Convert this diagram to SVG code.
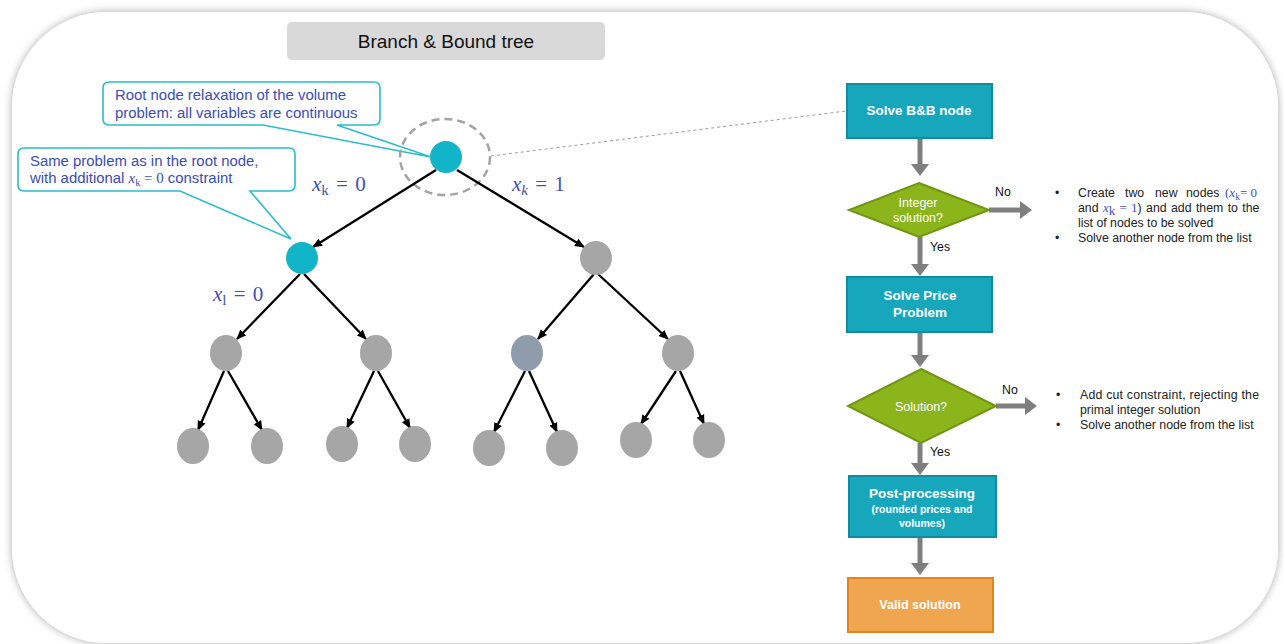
<svg xmlns="http://www.w3.org/2000/svg" width="1284" height="644" viewBox="0 0 1284 644">
<defs>
<filter id="sh" x="-5%" y="-5%" width="110%" height="110%">
<feGaussianBlur in="SourceAlpha" stdDeviation="4"/>
<feComponentTransfer><feFuncA type="linear" slope="0.35"/></feComponentTransfer>
<feMerge><feMergeNode/><feMergeNode in="SourceGraphic"/></feMerge>
</filter>
<filter id="soft" x="-20%" y="-20%" width="140%" height="140%"><feGaussianBlur stdDeviation="0.7"/></filter>
<marker id="ba" viewBox="0 0 10 10" refX="9" refY="5" markerWidth="10" markerHeight="10" markerUnits="userSpaceOnUse" orient="auto"><path d="M0,0.8 L10,5 L0,9.2 Z" fill="#000"/></marker>
<marker id="ga" viewBox="0 0 12 18" refX="0" refY="9" markerWidth="12" markerHeight="18" markerUnits="userSpaceOnUse" orient="auto"><path d="M0,0 L12,9 L0,18 Z" fill="#7f7f7f"/></marker>
</defs>
<style>
.sans{font-family:"Liberation Sans",Arial,sans-serif}
.math{font-family:"Liberation Serif","DejaVu Serif",serif;fill:#3f51b5}
.call{fill:#fff;stroke:#2bbccd;stroke-width:1.6}
.ctext{font-family:"Liberation Sans",Arial,sans-serif;font-size:14.9px;fill:#3b4db6}
.edge{stroke:#000;stroke-width:2.3;fill:none;marker-end:url(#ba)}
.gar{stroke:#7f7f7f;stroke-width:5;fill:none;marker-end:url(#ga)}
.gray{fill:#a6a6a6}
.teal{fill:#12b4c7}
.box{fill:#17a7bd;stroke:#108c9e;stroke-width:2}
.dia{fill:#8cb51b;stroke:#6f9612;stroke-width:2}
.bt{font-family:"Liberation Sans",Arial,sans-serif;font-weight:bold;fill:#fff;text-anchor:middle}
.dt{font-family:"Liberation Sans",Arial,sans-serif;fill:#fff;text-anchor:middle;font-size:12.5px}
.lbl{font-family:"Liberation Sans",Arial,sans-serif;font-size:12.3px;fill:#111}
.bul{font-family:"Liberation Sans",Arial,sans-serif;font-size:12.3px;fill:#222}
.bm{font-family:"Liberation Serif","DejaVu Serif",serif;fill:#3f51b5;font-size:13px}
</style>
<rect width="1284" height="644" fill="#ffffff"/>
<rect id="panel" x="12" y="12" width="1266" height="631" rx="95" ry="95" fill="#fff" filter="url(#sh)"/>

<g id="title">
<rect x="287" y="22" width="318" height="38" rx="5" fill="#d9d9d9"/>
<text x="446" y="48" class="sans" font-size="19" fill="#111" text-anchor="middle">Branch &amp; Bound tree</text>
</g>

<g id="callout-root">
<path class="call" d="M109,82 H374 Q380,82 380,88 V119 Q380,125 374,125 H337 L431,157 L263,125 H109 Q103,125 103,119 V88 Q103,82 109,82 Z"/>
<text class="ctext" x="115" y="100">Root node relaxation of the volume</text>
<text class="ctext" x="115" y="118">problem: all variables are continuous</text>
</g>

<g id="callout-left">
<path class="call" d="M24,148 H289 Q295,148 295,154 V185 Q295,191 289,191 H250 L291,239 L180,191 H24 Q18,191 18,185 V154 Q18,148 24,148 Z"/>
<text class="ctext" x="30" y="166">Same problem as in the root node,</text>
<text class="ctext" x="30" y="183">with additional <tspan font-family="Liberation Serif,serif" font-style="italic">x</tspan><tspan font-family="Liberation Serif,serif" font-size="10.5" dy="3">k</tspan><tspan font-family="Liberation Serif,serif" dy="-3"> = 0</tspan> constraint</text>
</g>

<g id="connectors">
<ellipse cx="445" cy="157" rx="45" ry="38" fill="none" stroke="#a3a3a3" stroke-width="2.5" stroke-dasharray="8,5"/>
<line x1="491" y1="156" x2="846" y2="111" stroke="#9a9a9a" stroke-width="1" stroke-dasharray="3,3"/>
<line class="edge" x1="436" y1="170" x2="313" y2="247"/>
<line class="edge" x1="457" y1="170" x2="584" y2="247"/>
<line class="edge" x1="300" y1="274" x2="237" y2="339"/>
<line class="edge" x1="304" y1="274" x2="366" y2="339"/>
<line class="edge" x1="594" y1="274" x2="538" y2="339"/>
<line class="edge" x1="598" y1="274" x2="668" y2="339"/>
<line class="edge" x1="224" y1="371" x2="198" y2="430"/>
<line class="edge" x1="228" y1="371" x2="262" y2="430"/>
<line class="edge" x1="374" y1="371" x2="347" y2="428"/>
<line class="edge" x1="378" y1="371" x2="410" y2="428"/>
<line class="edge" x1="525" y1="371" x2="494" y2="432"/>
<line class="edge" x1="529" y1="371" x2="557" y2="432"/>
<line class="edge" x1="676" y1="371" x2="641" y2="424"/>
<line class="edge" x1="680" y1="371" x2="704" y2="424"/>
<line class="gar" x1="920" y1="138" x2="920" y2="164"/>
<line class="gar" x1="920" y1="237" x2="920" y2="264"/>
<line class="gar" x1="920" y1="332" x2="920" y2="355"/>
<line class="gar" x1="920" y1="443" x2="920" y2="463"/>
<line class="gar" x1="920" y1="537" x2="920" y2="563"/>
<line class="gar" x1="989" y1="210" x2="1020" y2="210"/>
<line class="gar" x1="996" y1="406" x2="1025" y2="406"/>
</g>

<g id="tree-labels">
<text class="math" x="312" y="191" font-size="21"><tspan font-style="italic">x</tspan><tspan font-size="15" dy="4">k</tspan><tspan dy="-4" word-spacing="2"> = 0</tspan></text>
<text class="math" x="512" y="191" font-size="21"><tspan font-style="italic">x</tspan><tspan font-size="15" dy="4" font-style="italic">k</tspan><tspan dy="-4" word-spacing="2"> = 1</tspan></text>
<text class="math" x="213" y="301" font-size="21"><tspan font-style="italic">x</tspan><tspan font-size="15" dy="4">l</tspan><tspan dy="-4" word-spacing="2"> = 0</tspan></text>
</g>

<g id="n-root"><circle class="teal" cx="446" cy="157" r="16"/></g>
<g id="n-l1a"><circle class="teal" cx="302" cy="258" r="16"/></g>
<g id="n-l1b"><ellipse class="gray" cx="596" cy="258" rx="16" ry="17" filter="url(#soft)"/></g>
<g id="n-l2a"><ellipse class="gray" cx="226" cy="353" rx="16" ry="18" filter="url(#soft)"/></g>
<g id="n-l2b"><ellipse class="gray" cx="376" cy="353" rx="16" ry="18" filter="url(#soft)"/></g>
<g id="n-l2c"><ellipse cx="527" cy="353" rx="16" ry="18" fill="#8e9cab" filter="url(#soft)"/></g>
<g id="n-l2d"><ellipse class="gray" cx="678" cy="353" rx="16" ry="18" filter="url(#soft)"/></g>
<g id="n-l3a"><ellipse class="gray" cx="193" cy="446" rx="16" ry="18" filter="url(#soft)"/></g>
<g id="n-l3b"><ellipse class="gray" cx="267" cy="446" rx="16" ry="18" filter="url(#soft)"/></g>
<g id="n-l3c"><ellipse class="gray" cx="342" cy="444" rx="16" ry="18" filter="url(#soft)"/></g>
<g id="n-l3d"><ellipse class="gray" cx="415" cy="444" rx="16" ry="18" filter="url(#soft)"/></g>
<g id="n-l3e"><ellipse class="gray" cx="489" cy="448" rx="16" ry="18" filter="url(#soft)"/></g>
<g id="n-l3f"><ellipse class="gray" cx="562" cy="448" rx="16" ry="18" filter="url(#soft)"/></g>
<g id="n-l3g"><ellipse class="gray" cx="636" cy="440" rx="16" ry="18" filter="url(#soft)"/></g>
<g id="n-l3h"><ellipse class="gray" cx="709" cy="440" rx="16" ry="18" filter="url(#soft)"/></g>

<g id="f-solve">
<rect class="box" x="847" y="84" width="145" height="54"/>
<text class="bt" x="919" y="115" font-size="13.5">Solve B&amp;B node</text>
</g>
<g id="f-integer">
<polygon class="dia" points="919,183 989,210 919,237 849,210"/>
<text class="dt" x="918" y="207">Integer</text>
<text class="dt" x="918" y="222">solution?</text>
</g>
<g id="f-price">
<rect class="box" x="847" y="277" width="145" height="55"/>
<text class="bt" x="920" y="300" font-size="13.5">Solve Price</text>
<text class="bt" x="920" y="317" font-size="13.5">Problem</text>
</g>
<g id="f-solution">
<polygon class="dia" points="921,369 996,406 921,443 848,406"/>
<text class="dt" x="921" y="411">Solution?</text>
</g>
<g id="f-post">
<rect class="box" x="849" y="476" width="147" height="61"/>
<text class="bt" x="922" y="498" font-size="13.5">Post-processing</text>
<text class="bt" x="922" y="513" font-size="10.5">(rounded prices and</text>
<text class="bt" x="922" y="527" font-size="10.5">volumes)</text>
</g>
<g id="f-valid">
<rect x="848" y="578" width="145" height="54" fill="#f0a64e" stroke="#e3831b" stroke-width="2"/>
<text class="bt" x="920" y="609" font-size="12.5">Valid solution</text>
</g>

<g id="flow-labels">
<text class="lbl" x="995" y="196">No</text>
<text class="lbl" x="930" y="251">Yes</text>
<text class="lbl" x="1002" y="394">No</text>
<text class="lbl" x="930" y="456">Yes</text>
</g>

<g id="note-integer" class="bul">
<text x="1055" y="197">•</text>
<text y="197"><tspan x="1078">Create</tspan><tspan x="1125">two</tspan><tspan x="1155">new</tspan><tspan x="1186">nodes</tspan><tspan x="1225" class="bm">(<tspan font-style="italic">x</tspan><tspan font-size="9.5" dy="3">k</tspan><tspan dy="-3">= 0</tspan></tspan></text>
<text y="212" word-spacing="1"><tspan x="1078">and </tspan><tspan class="bm" font-style="italic">x</tspan><tspan class="bm" font-size="9.5" dy="3">k</tspan><tspan class="bm" dy="-3"> = 1</tspan>) and add them to the</text>
<text x="1078" y="227">list of nodes to be solved</text>
<text x="1055" y="242">•</text>
<text x="1078" y="242">Solve another node from the list</text>
</g>

<g id="note-solution" class="bul">
<text x="1056" y="399">•</text>
<text x="1080" y="399" textLength="179" lengthAdjust="spacing">Add cut constraint, rejecting the</text>
<text x="1080" y="414">primal integer solution</text>
<text x="1056" y="429">•</text>
<text x="1080" y="429">Solve another node from the list</text>
</g>
</svg>
